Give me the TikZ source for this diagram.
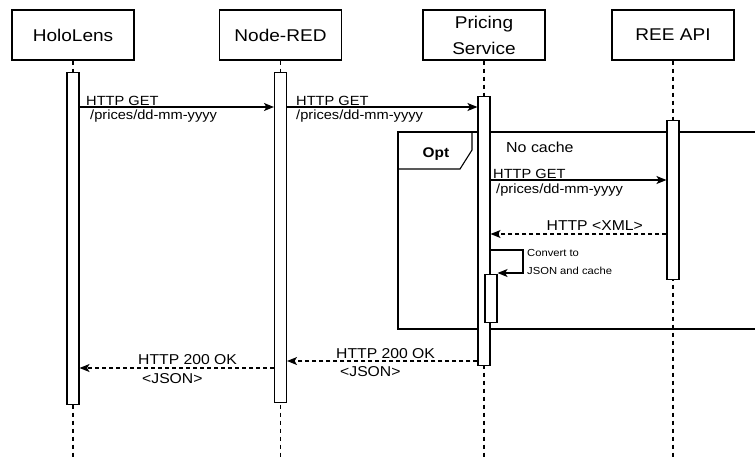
\documentclass[tikz,border=0pt]{standalone}
\usepackage{fontspec}
\usetikzlibrary{arrows.meta}
\newfontfamily\myhdr[FakeStretch=1.12]{Liberation Sans}
\newfontfamily\mylbl[FakeStretch=1.1]{Liberation Sans}
\begin{document}
\begin{tikzpicture}[x=1pt,y=-1pt,
  actor/.style={draw, line width=1.1pt, minimum width=122pt, minimum height=50pt, inner sep=0pt, align=center,
    font=\myhdr\fontsize{17}{26}\selectfont},
  bar/.style={draw, fill=white, line width=1.1pt, minimum width=12pt, inner sep=0pt, anchor=north},
  life/.style={line width=1.1pt, dash pattern=on 4pt off 4pt},
  msg/.style={line width=1.1pt, -{Stealth[length=10pt,width=8pt,inset=2.5pt]}},
  ret/.style={msg, dash pattern=on 4pt off 3pt},
  lbl/.style={inner sep=0pt, anchor=base west, font=\mylbl\fontsize{13.3}{15}\selectfont},
  rlbl/.style={inner sep=0pt, anchor=base west, font=\mylbl\fontsize{14.3}{16}\selectfont},
  small/.style={inner sep=0pt, anchor=base west, font=\mylbl\fontsize{10.2}{12}\selectfont},
  frame/.style={line width=1.1pt}
]
\useasboundingbox (0,0) rectangle (755,459);

% actors
\node[actor] (hl) at (73,35) {HoloLens};
\node[actor] (nr) at (280.5,35) {Node-RED};
\node[actor] (ps) at (484,35) {Pricing\\Service};
\node[actor] (ree) at (673,35) {REE API};

% lifelines
\coordinate (hlend) at (73,459);
\coordinate (nrend) at (280.5,459);
\coordinate (psend) at (484,459);
\coordinate (reeend) at (673,459);
\draw[life] (hl.south) -- (hlend);
\draw[life] (nr.south) -- (nrend);
\draw[life] (ps.south) -- (psend);
\draw[life] (ree.south) -- (reeend);

% opt frame
\draw[frame] (756,132) -| (398,329) -- (756,329);
\draw[frame] (472,132) -- (472,150) -- (460,169) -- (398,169);
\node[inner sep=0pt, anchor=base, font=\mylbl\fontsize{14}{16}\selectfont\bfseries] (opt) at (436,157) {Opt};
\node[inner sep=0pt, anchor=base west, font=\mylbl\fontsize{14.5}{16}\selectfont] (nocache) at (506,152) {No cache};

% activation bars
\node[bar, minimum height=332pt] (hlbar) at (73,72) {};
\node[bar, minimum height=330pt] (nrbar) at (280.5,72) {};
\node[bar, minimum height=269pt] (psbar) at (484,96) {};
\node[bar, minimum height=159pt] (reebar) at (673,120) {};
\node[bar, minimum height=48pt] (psbar2) at (491,274) {};

% messages
\draw[msg] (hlbar.east |- 0,107) -- (nrbar.west |- 0,107);
\node[lbl] (m1a) at (86,105) {HTTP GET};
\node[lbl] (m1b) at (90,119) {/prices/dd-mm-yyyy};

\draw[msg] (nrbar.east |- 0,107) -- (psbar.west |- 0,107);
\node[lbl] (m2a) at (296,105) {HTTP GET};
\node[lbl] (m2b) at (296,119) {/prices/dd-mm-yyyy};

\draw[msg] (psbar.east |- 0,180) -- (reebar.west |- 0,180);
\node[lbl] (m3a) at (493,178) {HTTP GET};
\node[lbl] (m3b) at (496,193) {/prices/dd-mm-yyyy};

\draw[ret] (reebar.west |- 0,234) -- (psbar.east |- 0,234);
\node[rlbl, anchor=base east] (m4) at (643,230) {HTTP <XML>};

\coordinate (selfa) at (523,250);
\coordinate (selfb) at (523,273);
\draw[msg] (psbar.east |- selfa) -- (selfa) -- (selfb) -- (psbar2.east |- selfb);
\node[small] (m5a) at (527,256) {Convert to};
\node[small] (m5b) at (527,274) {JSON and cache};

\draw[ret] (psbar.west |- 0,361) -- (nrbar.east |- 0,361);
\node[rlbl] (m6a) at (336,358) {HTTP 200 OK};
\node[rlbl] (m6b) at (340,376) {<JSON>};

\draw[ret] (nrbar.west |- 0,368) -- (hlbar.east |- 0,368);
\node[rlbl] (m7a) at (138,364) {HTTP 200 OK};
\node[rlbl] (m7b) at (142,383) {<JSON>};
\end{tikzpicture}
\end{document}
